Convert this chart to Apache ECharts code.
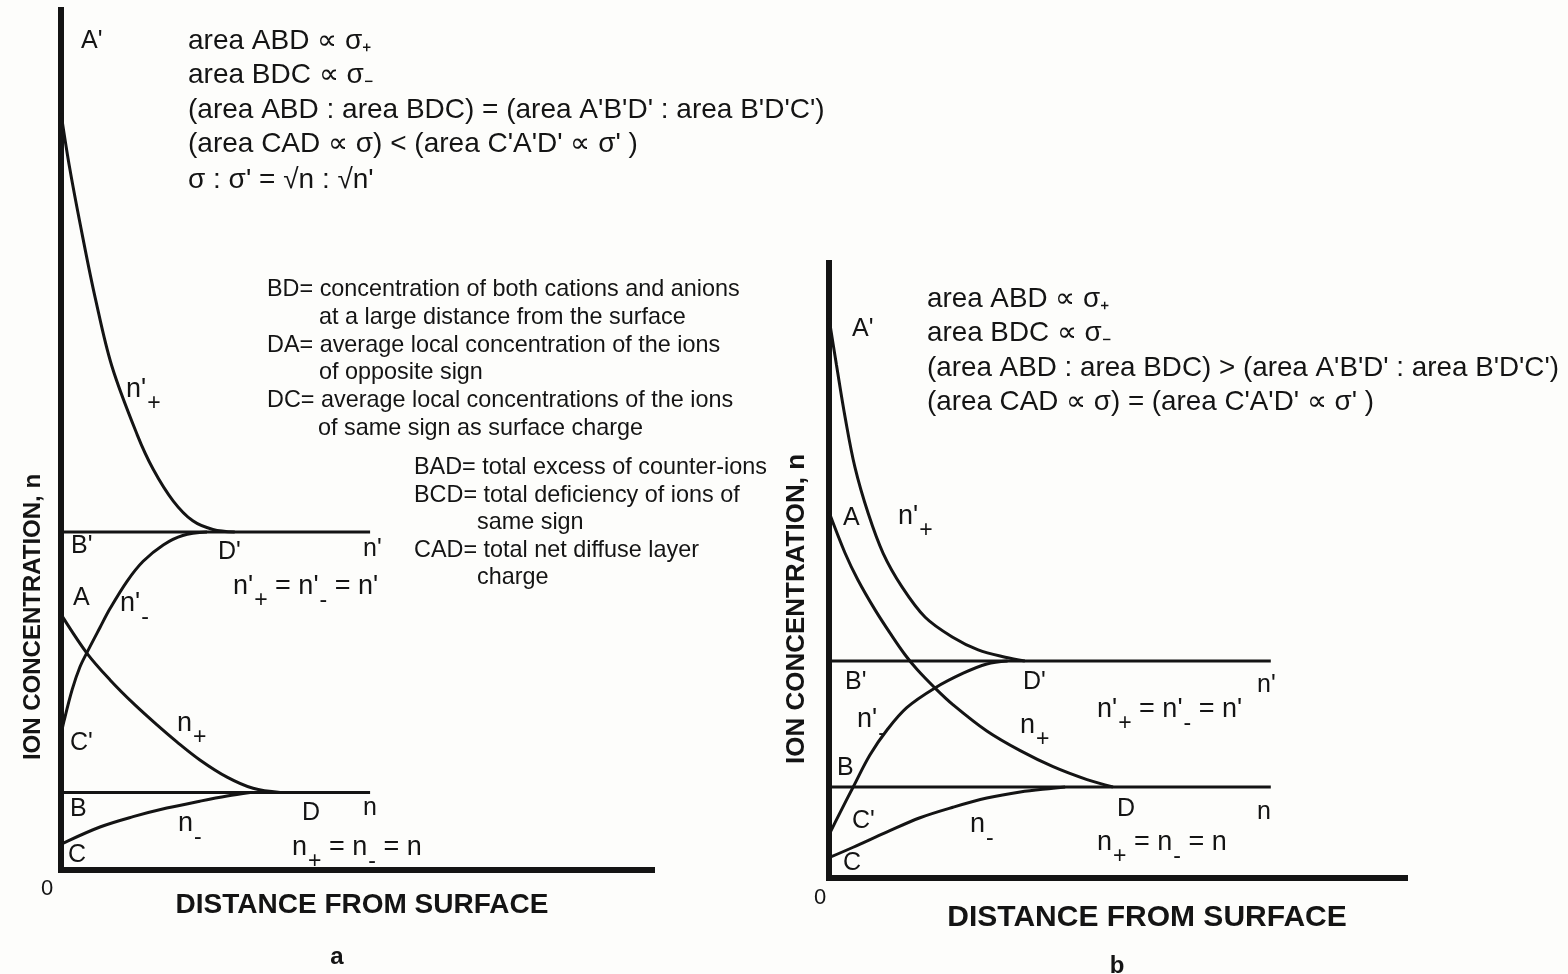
<!DOCTYPE html>
<html><head><meta charset="utf-8">
<script src="https://cdn.jsdelivr.net/npm/echarts/dist/echarts.min.js"></script>
<style>html,body{margin:0;padding:0;background:#fdfdfb}#c{width:1568px;height:974px}</style>
</head><body><div id="c"></div>
<script>
// ---------- Panel a data (distance units 0-100, concentration units 0-100) ----------
const aNPrimePlus  = [[0,88],[1.5,81.5],[3.7,73.5],[5.8,66.5],[8.6,58.6],[12.9,50.6],[15.6,46.6],[19.0,42.9],[22.3,40.6],[25.7,39.6],[29.4,39.3]];
const aNPrimeMinus = [[0,15.7],[0.5,17.3],[1.9,21.0],[3.2,23.6],[4.4,25.3],[6.6,28.2],[8.3,30.4],[11.2,33.6],[13.9,35.9],[17.3,37.8],[20.6,38.9],[24.7,39.3]];
const aNPlus       = [[0,29.9],[0.3,29.4],[4.4,25.2],[8.3,22.1],[12.2,19.4],[16.2,16.9],[19.6,14.9],[23.5,12.8],[28.1,10.8],[32.5,9.5],[37.1,9.0]];
const aNMinus      = [[0,2.9],[0.3,3.1],[6.6,5.0],[12.2,6.2],[17.9,7.2],[23.5,8.0],[28.1,8.6],[32.0,9.0]];
const aPrimeLevel  = [[0,39.3],[52.3,39.3]];
const aLevel       = [[0,9.0],[52.3,9.0]];

// ---------- Panel b data ----------
const bNPrimePlus  = [[0,91],[1.3,83.4],[2.8,74.9],[4.5,66.8],[6.8,59.3],[9.4,52.8],[12.7,47.3],[16.7,42.4],[21.4,39.2],[25.9,37.1],[30.6,35.9],[34.0,35.3]];
const bNPlus       = [[0,59.5],[2.8,52.8],[5.0,48.5],[8.0,43.6],[10.9,39.4],[13.2,36.3],[15.3,33.9],[18.4,30.9],[21.5,28.2],[27.4,23.9],[33.2,20.7],[38.9,18.1],[44.8,16.0],[49.3,14.8]];
const bNPrimeMinus = [[0,7.0],[1.9,10.6],[4.2,14.8],[7.1,20.0],[10.1,24.1],[13.5,27.7],[18.4,30.9],[23.3,33.3],[27.4,34.8],[31.0,35.3]];
const bNMinus      = [[0,3.3],[4.2,5.0],[10.1,7.5],[15.8,9.8],[21.5,11.5],[27.4,13.0],[33.2,14.0],[38.9,14.6],[41.0,14.8]];
const bPrimeLevel  = [[0,35.3],[76.7,35.3]];
const bLevel       = [[0,14.8],[76.7,14.8]];

// ---------- Text ----------
const aRelations = ["area ABD \u221D \u03C3\u208A", "area BDC \u221D \u03C3\u208B",
  "(area ABD : area BDC) = (area A'B'D' : area B'D'C')",
  "(area CAD \u221D \u03C3) < (area C'A'D' \u221D \u03C3' )",
  "\u03C3 : \u03C3' = \u221An : \u221An'"];
const bRelations = ["area ABD \u221D \u03C3\u208A", "area BDC \u221D \u03C3\u208B",
  "(area ABD : area BDC) > (area A'B'D' : area B'D'C')",
  "(area CAD \u221D \u03C3) = (area C'A'D' \u221D \u03C3' )"];
const definitions = ["BD= concentration of both cations and anions", "at a large distance from the surface",
  "DA= average local concentration of the ions", "of opposite sign",
  "DC= average local concentrations of the ions", "of same sign as surface charge"];
const totals = ["BAD= total excess of counter-ions", "BCD= total deficiency of ions of", "same sign",
  "CAD= total net diffuse layer", "charge"];
const xTitle = "DISTANCE FROM SURFACE";
const yTitle = "ION CONCENTRATION, n";

const FONT = "'Liberation Sans', Helvetica, Arial, sans-serif";
const INK = '#141414';

const ctx = document.createElement('canvas').getContext('2d');
function tw(s, size) { ctx.font = size + 'px ' + FONT; return ctx.measureText(s).width; }

function txt(x, y, text, size, extra) {
  return Object.assign({ type: 'text', x: x, y: y, silent: true,
    style: Object.assign({ text: text, fontSize: size, fontFamily: FONT, fill: INK, align: 'left', verticalAlign: 'middle' }, (extra && extra.style) || {}) },
    extra && extra.el || {});
}
// '_' marks the following character as a subscript
function subText(x, y, spec, size) {
  const segs = []; let buf = '';
  for (let i = 0; i < spec.length; i++) {
    if (spec[i] === '_') { if (buf) segs.push([buf, false]); buf = ''; segs.push([spec[i + 1], true]); i++; }
    else buf += spec[i];
  }
  if (buf) segs.push([buf, false]);
  const els = []; let cx = x; const ss = Math.round(size * 0.85);
  segs.forEach(([s, isSub]) => {
    if (isSub) { els.push(txt(cx + 1, y + size * 0.5, s, ss)); cx += tw(s, ss) + 1; }
    else { els.push(txt(cx, y, s, size)); cx += tw(s, size); }
  });
  return els;
}

const graphics = [];
const LS = 25, SS = 27;
// panel a letters
[["A'",81,41],["B'",71,546],["D'",218,552],["n'",363,549],["A",73,598],["C'",70,743],["B",70,809],["D",302,813],["n",363,808],["C",68,855]]
  .forEach(([t,x,y]) => graphics.push(txt(x, y, t, LS)));
[["n'_+",126,390],["n'_+ = n'_- = n'",233,587],["n'_-",120,604],["n_+",177,724],["n_-",178,824],["n_+ = n_- = n",292,848]]
  .forEach(([t,x,y]) => graphics.push(...subText(x, y, t, SS)));
// panel b letters
[["A'",852,329],["A",843,518],["B'",845,682],["D'",1023,682],["n'",1257,685],["B",837,768],["C'",852,821],["D",1117,809],["n",1257,812],["C",843,863]]
  .forEach(([t,x,y]) => graphics.push(txt(x, y, t, LS)));
[["n'_+",898,517],["n'_+ = n'_- = n'",1097,710],["n'_-",857,720],["n_+",1020,726],["n_-",970,825],["n_+ = n_- = n",1097,843]]
  .forEach(([t,x,y]) => graphics.push(...subText(x, y, t, SS)));

// relations blocks
const aRelY = [41, 75, 110, 144, 180];
aRelations.forEach((t, i) => graphics.push(txt(188, aRelY[i], t, 28)));
const bRelY = [299, 333, 368, 402];
bRelations.forEach((t, i) => graphics.push(txt(927, bRelY[i], t, 27.8)));
// definitions
const defX = [267, 319, 267, 319, 267, 318], defY = [290, 318, 346, 373, 401, 429];
definitions.forEach((t, i) => graphics.push(txt(defX[i], defY[i], t, 23.4)));
const totX = [414, 414, 477, 414, 477], totY = [468, 496, 523, 551, 578];
totals.forEach((t, i) => graphics.push(txt(totX[i], totY[i], t, 23.4)));

// origin, axis titles, panel letters
graphics.push(txt(47, 889, '0', 22, { style: { align: 'center' } }));
graphics.push(txt(820, 898, '0', 22, { style: { align: 'center' } }));
graphics.push(txt(362, 905, xTitle, 28, { style: { align: 'center', fontWeight: 'bold' } }));
graphics.push(txt(1147, 918, xTitle, 30, { style: { align: 'center', fontWeight: 'bold' } }));
graphics.push(txt(33, 617, yTitle, 24, { style: { align: 'center', fontWeight: 'bold' }, el: { rotation: Math.PI / 2 } }));
graphics.push(txt(797, 609, yTitle, 26, { style: { align: 'center', fontWeight: 'bold' }, el: { rotation: Math.PI / 2 } }));
graphics.push(txt(337, 957, 'a', 24, { style: { align: 'center', fontWeight: 'bold' } }));
graphics.push(txt(1117, 966, 'b', 24, { style: { align: 'center', fontWeight: 'bold' } }));

function axis(gi) {
  return { gridIndex: gi, type: 'value', min: 0, max: 100,
    axisLine: { show: true, onZero: false, lineStyle: { color: INK, width: 6, cap: 'square' } },
    axisTick: { show: false }, axisLabel: { show: false }, splitLine: { show: false } };
}
function curve(data, gi) {
  return { type: 'line', xAxisIndex: gi, yAxisIndex: gi, data: data, showSymbol: false, symbol: 'none',
    smooth: 0.35, lineStyle: { color: INK, width: 3 }, silent: true, z: 3 };
}
function level(data, gi) {
  return { type: 'line', xAxisIndex: gi, yAxisIndex: gi, data: data, showSymbol: false, symbol: 'none',
    lineStyle: { color: INK, width: 3 }, silent: true, z: 3 };
}

const chart = echarts.init(document.getElementById('c'), null, { renderer: 'canvas' });
chart.setOption({
  backgroundColor: '#fdfdfb',
  animation: false,
  grid: [{ left: 61, top: 10, width: 591, height: 860 }, { left: 829, top: 263, width: 576, height: 615 }],
  xAxis: [axis(0), axis(1)],
  yAxis: [axis(0), axis(1)],
  series: [
    curve(aNPrimePlus, 0), curve(aNPrimeMinus, 0), curve(aNPlus, 0), curve(aNMinus, 0), level(aPrimeLevel, 0), level(aLevel, 0),
    curve(bNPrimePlus, 1), curve(bNPlus, 1), curve(bNPrimeMinus, 1), curve(bNMinus, 1), level(bPrimeLevel, 1), level(bLevel, 1)
  ],
  graphic: graphics
});
</script></body></html>
